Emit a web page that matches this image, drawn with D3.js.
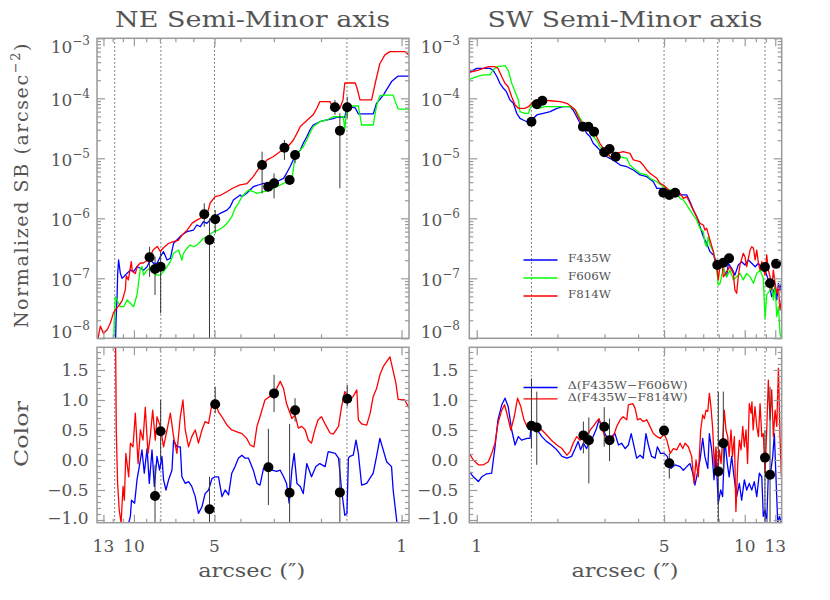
<!DOCTYPE html>
<html><head><meta charset="utf-8">
<script src="https://cdn.jsdelivr.net/npm/d3@7"></script>
<style>
body{margin:0;background:#fff}
text{font-family:"DejaVu Serif",serif;fill:#555}
</style>
</head><body>
<svg id="c" width="830" height="600"></svg>
<script>
// ---------------- DATA ----------------
const xTickVals = [1,2,3,4,5,6,7,8,9,10,11,12,13];
const xTickLabels = [1,5,10,13];
const sbTickExp = [-3,-4,-5,-6,-7,-8];
const colorTickLabels = [-1.0,-0.5,0.0,0.5,1.0,1.5];
const neDots = [11.8, 7.93, 5.0, 1.6];
const swDots = [1.6, 5.0, 7.93, 11.9];
const legendSB = ["F435W","F606W","F814W"];
const legendColor = ["\u0394(F435W\u2212F606W)","\u0394(F435W\u2212F814W)"];

// NE semi-minor axis: [arcsec, normalized SB]
const neBlueSB = [[0.937,2.35e-4],[1.03,2.35e-4],[1.09,1.9e-4],[1.17,1.13e-4],[1.24,8.25e-5],[1.276,5.5e-5],[1.45,5.5e-5],[1.49,6.9e-5],[1.56,7.2e-5],[1.60,7.2e-5],[1.63,4.8e-5],[1.75,4.8e-5],[1.80,4.6e-5],[1.90,4.35e-5],[2.02,4.07e-5],[2.14,3.59e-5],[2.20,2.96e-5],[2.26,2.29e-5],[2.33,1.78e-5],[2.39,1.37e-5],[2.46,1.21e-5],[2.54,9.4e-6],[2.61,7.24e-6],[2.69,5.62e-6],[2.76,4.64e-6],[2.93,4.07e-6],[3.10,3.83e-6],[3.28,3.83e-6],[3.43,3.59e-6],[3.58,3.36e-6],[3.79,2.61e-6],[3.95,2.29e-6],[4.01,2.45e-6],[4.25,2.02e-6],[4.37,1.56e-6],[4.49,1.37e-6],[4.76,1.21e-6],[4.97,1.06e-6],[5.19,9.4e-7],[5.34,8.25e-7],[5.50,8.78e-7],[5.65,7.24e-7],[5.82,7.73e-7],[5.99,6.38e-7],[6.34,5.98e-7],[6.62,5.27e-7],[6.91,4.35e-7],[7.11,3.83e-7],[7.31,2.15e-7],[7.52,2.02e-7],[7.75,2.78e-7],[7.97,2.29e-7],[8.20,1.78e-7],[8.44,1.78e-7],[8.69,2.02e-7],[8.93,1.56e-7],[9.20,1.37e-7],[9.46,1.47e-7],[9.74,1.56e-7],[10.03,1.29e-7],[10.31,1.37e-7],[10.61,1.21e-7],[10.92,1.06e-7],[11.08,1.0e-7],[11.24,1.21e-7],[11.41,2.02e-7],[11.50,1.21e-7],[11.56,4.93e-8],[11.66,2.02e-8],[11.75,5e-9]];
const neGreenSB = [[0.937,6.6e-5],[1.03,6.6e-5],[1.06,9.4e-5],[1.075,1.13e-4],[1.17,1.13e-4],[1.205,1.1e-4],[1.24,7.5e-5],[1.276,3.59e-5],[1.41,3.59e-5],[1.45,7.44e-5],[1.60,7.44e-5],[1.63,2.96e-5],[1.65,4.93e-5],[1.80,4.93e-5],[1.90,4.35e-5],[2.02,4.07e-5],[2.14,3.36e-5],[2.20,2.61e-5],[2.26,2.02e-5],[2.33,1.56e-5],[2.39,1.37e-5],[2.50,1.06e-5],[2.54,6.38e-6],[2.57,4.35e-6],[2.69,4.07e-6],[2.76,3.83e-6],[2.93,3.36e-6],[3.10,2.96e-6],[3.28,2.78e-6],[3.47,2.61e-6],[3.58,2.78e-6],[3.73,2.96e-6],[3.84,2.61e-6],[3.95,2.29e-6],[4.07,1.78e-6],[4.19,1.47e-6],[4.31,1.06e-6],[4.49,8.25e-7],[4.63,7.24e-7],[4.83,6.38e-7],[5.04,5.98e-7],[5.34,4.93e-7],[5.50,4.64e-7],[5.65,4.07e-7],[5.82,3.59e-7],[5.99,3.36e-7],[6.16,3.59e-7],[6.34,3.16e-7],[6.53,2.61e-7],[6.62,2.02e-7],[6.81,2.96e-7],[7.11,2.61e-7],[7.31,1.89e-7],[7.52,1.56e-7],[7.75,1.29e-7],[7.97,1.13e-7],[8.20,1.13e-7],[8.44,1.21e-7],[8.69,1.47e-7],[8.93,1.37e-7],[9.20,1.13e-7],[9.33,1.56e-7],[9.46,1.47e-7],[9.74,5.27e-8],[10.03,3.36e-8],[10.31,3.83e-8],[10.61,4.35e-8],[10.92,3.36e-8],[11.24,3.36e-8],[11.56,4.35e-8],[11.73,4.93e-8],[11.84,2.02e-8],[11.9,9e-9]];
const neRedSB = [[0.937,5.2e-4],[0.972,6.0e-4],[1.105,6.0e-4],[1.154,5.3e-4],[1.205,3.8e-4],[1.247,2.0e-4],[1.294,9.4e-5],[1.43,9.4e-5],[1.468,1.5e-4],[1.49,1.8e-4],[1.63,1.8e-4],[1.655,9.4e-5],[1.70,6.8e-5],[1.804,6.8e-5],[1.85,8.8e-5],[2.02,8.8e-5],[2.07,6.9e-5],[2.14,5.3e-5],[2.255,4.3e-5],[2.39,3.4e-5],[2.46,2.6e-5],[2.54,2.0e-5],[2.68,1.5e-5],[2.84,1.3e-5],[3.02,1.06e-5],[3.18,9.4e-6],[3.38,7.2e-6],[3.59,4.9e-6],[3.78,3.8e-6],[4.01,3.6e-6],[4.26,3.2e-6],[4.48,2.8e-6],[4.76,2.4e-6],[4.97,2.3e-6],[5.19,1.8e-6],[5.32,1.2e-6],[5.51,1.06e-6],[5.80,9.4e-7],[6.06,8.3e-7],[6.32,6.4e-7],[6.60,5.3e-7],[6.83,4.3e-7],[7.13,4.1e-7],[7.44,3.8e-7],[7.77,3.2e-7],[7.97,2.8e-7],[8.18,3.4e-7],[8.47,3.0e-7],[8.69,2.3e-7],[8.91,2.0e-7],[9.22,1.8e-7],[9.46,1.8e-7],[9.71,1.6e-7],[9.88,1.2e-7],[10.14,1.3e-7],[10.23,1.9e-7],[10.49,9.4e-8],[10.68,1.1e-7],[10.77,6.4e-8],[11.05,4.3e-8],[11.43,3.4e-8],[11.73,3.0e-8],[11.94,2.6e-8],[12.25,1.8e-8],[12.57,1.4e-8],[13.0,1.2e-8],[13.35,1.6e-8],[13.65,9.4e-9]];

const nePtsX  = [8.74,8.34,7.95,5.46,5.22,4.97,3.32,3.15,2.995,2.74,2.62,2.50,1.774,1.70,1.596];
const nePtsSB = [2.24e-7,1.43e-7,1.56e-7,1.17e-6,4.35e-7,9.62e-7,7.73e-6,3.36e-6,3.83e-6,1.50e-5,4.35e-6,1.135e-5,7.08e-5,2.88e-5,7.08e-5];
const nePtsLo = [1.06e-7,5.27e-8,2.61e-8,7.24e-7,1e-9,5.62e-7,2.61e-6,2.8e-6,2.15e-6,9.4e-6,3.7e-6,8.25e-6,5.3e-5,3.16e-6,4.64e-5];
const nePtsHi = [3.36e-7,2.29e-7,2.78e-7,1.78e-6,1.0e-6,1.37e-6,1.29e-5,3.9e-6,5.62e-6,2.02e-5,5.0e-6,1.37e-5,9.4e-5,5.62e-5,1.06e-4];

// NE colour profiles: [arcsec, colour]
const neBlueCol = [[0.94,-1.5],[1.0,-1.3],[1.04,-1.05],[1.075,-0.5],[1.09,-0.11],[1.137,-0.03],[1.205,0.36],[1.24,0.06],[1.276,-0.22],[1.35,-0.39],[1.41,-0.42],[1.45,0.11],[1.48,0.33],[1.515,0.08],[1.56,0.06],[1.58,0.03],[1.60,-0.89],[1.63,-0.92],[1.675,-0.5],[1.72,0.03],[1.77,0.11],[1.88,0.14],[1.93,-0.11],[2.02,-0.06],[2.09,-0.11],[2.17,-0.28],[2.26,-0.06],[2.33,-0.56],[2.39,-0.44],[2.46,-0.39],[2.52,0.11],[2.57,-0.17],[2.63,-0.72],[2.69,-0.39],[2.76,-0.28],[2.84,-0.17],[2.93,-0.19],[3.05,-0.17],[3.19,-0.17],[3.28,-0.14],[3.38,-0.42],[3.47,-0.39],[3.58,-0.17],[3.73,0.03],[3.84,0.03],[3.95,0.08],[4.07,0.03],[4.19,-0.11],[4.31,-0.22],[4.43,-0.58],[4.56,-0.5],[4.69,-0.61],[4.83,-0.28],[4.97,-0.28],[5.11,-0.31],[5.26,-0.5],[5.42,-0.56],[5.57,-0.78],[5.74,-0.89],[5.90,-0.61],[6.08,-0.44],[6.25,-0.36],[6.43,-0.39],[6.62,-0.28],[6.71,0.22],[6.91,0.22],[7.11,0.33],[7.21,-0.17],[7.42,-0.33],[7.59,-0.5],[7.75,-0.33],[7.86,0.06],[8.02,-0.17],[8.20,0.06],[8.39,-0.44],[8.56,0.17],[8.76,-0.39],[8.93,0.19],[9.15,-0.22],[9.33,0.17],[9.55,-0.11],[9.74,-0.33],[9.94,-0.72],[10.21,-0.67],[10.31,-0.94],[10.46,-1.05],[10.6,-1.3]];
const neRedCol = [[0.937,0.86],[0.972,1.0],[1.03,1.01],[1.05,1.28],[1.105,1.72],[1.137,1.64],[1.17,1.56],[1.205,1.42],[1.24,1.19],[1.276,1.06],[1.31,0.78],[1.35,0.58],[1.41,0.6],[1.45,0.67],[1.47,1.17],[1.515,1.06],[1.54,1.03],[1.58,1.06],[1.63,1.14],[1.675,0.89],[1.72,0.56],[1.80,0.43],[1.85,0.45],[1.92,0.58],[1.99,0.72],[2.05,0.67],[2.11,0.5],[2.17,0.28],[2.23,0.33],[2.29,0.5],[2.36,0.56],[2.43,0.53],[2.50,0.75],[2.57,0.69],[2.69,0.94],[2.76,1.19],[2.84,1.31],[2.93,1.19],[3.02,1.11],[3.10,1.06],[3.24,1.0],[3.38,0.72],[3.47,0.56],[3.56,0.22],[3.68,0.25],[3.79,0.36],[3.95,0.44],[4.12,0.47],[4.31,0.5],[4.49,0.58],[4.69,0.72],[4.83,0.8],[4.97,0.97],[5.11,0.94],[5.26,0.61],[5.42,0.64],[5.57,0.5],[5.74,0.28],[5.90,0.5],[6.08,0.39],[6.25,0.22],[6.43,0.5],[6.56,1.0],[6.71,0.72],[6.91,0.11],[7.11,0.39],[7.31,0.78],[7.52,0.5],[7.75,0.22],[7.97,0.56],[8.20,0.72],[8.32,0.33],[8.51,0.83],[8.69,0.39],[8.86,0.11],[9.07,0.88],[9.25,0.33],[9.46,0.5],[9.65,-0.06],[9.88,0.78],[10.08,0.22],[10.31,0.28],[10.46,-0.28],[10.72,0.11],[10.86,-0.67],[10.98,-0.44],[11.17,-1.05],[11.35,-0.83],[11.51,-0.39],[11.64,0.5],[11.7,1.83],[11.8,3.0]];

const neColX  = [8.34,7.95,5.22,4.97,3.145,2.995,2.62,2.50,1.70,1.596];
const neColV  = [-0.6,0.48,-0.82,0.93,-0.12,1.11,-0.545,0.83,-0.54,1.02];
const neColLo = [-1.2,0.0,-1.2,0.78,-0.75,0.8,-1.2,0.64,-1.2,0.89];
const neColHi = [-0.08,1.0,-0.28,1.22,0.52,1.42,0.6,1.03,0.03,1.25];

// SW semi-minor axis: [arcsec, normalized SB]
const swBlueSB = [[0.938,2.7e-4],[1.0,3.16e-4],[1.03,3.16e-4],[1.12,3.16e-4],[1.15,2.96e-4],[1.19,2.29e-4],[1.22,1.78e-4],[1.257,1.47e-4],[1.29,1.29e-4],[1.33,9.4e-5],[1.37,8.25e-5],[1.41,5.62e-5],[1.45,4.64e-5],[1.49,4.35e-5],[1.54,4.07e-5],[1.58,4.07e-5],[1.63,4.64e-5],[1.675,5.27e-5],[1.77,5.62e-5],[1.88,5.98e-5],[1.99,6.81e-5],[2.10,7.24e-5],[2.23,7.24e-5],[2.29,6.38e-5],[2.36,4.93e-5],[2.43,3.83e-5],[2.50,3.36e-5],[2.57,2.61e-5],[2.65,2.29e-5],[2.72,1.78e-5],[2.80,1.56e-5],[2.88,1.37e-5],[2.97,1.13e-5],[3.06,1.06e-5],[3.14,1.0e-5],[3.23,9.4e-6],[3.43,7.73e-6],[3.63,7.24e-6],[3.84,6.38e-6],[4.07,5.27e-6],[4.31,4.93e-6],[4.56,4.07e-6],[4.70,3.16e-6],[4.97,3.16e-6],[5.12,2.78e-6],[5.42,2.61e-6],[5.74,2.45e-6],[6.08,2.45e-6],[6.25,1.89e-6],[6.43,1.37e-6],[6.62,1.06e-6],[6.81,7.24e-7],[7.01,4.93e-7],[7.21,3.83e-7],[7.42,2.78e-7],[7.64,2.45e-7],[7.86,1.89e-7],[8.09,1.67e-7],[8.32,1.47e-7],[8.56,1.06e-7],[8.69,1.78e-7],[8.94,1.47e-7],[9.19,1.13e-7],[9.46,1.67e-7],[9.74,1.89e-7],[10.02,1.67e-7],[10.32,2.02e-7],[10.62,1.78e-7],[10.94,1.56e-7],[11.25,1.78e-7],[11.58,1.47e-7],[11.91,1.37e-7],[12.25,9.4e-8],[12.61,4.93e-8],[12.98,7.24e-8],[13.17,4.35e-8],[13.36,8.25e-8],[13.54,6.38e-8],[13.7,8.25e-8]];
const swGreenSB = [[0.938,2.07e-4],[1.0,2.29e-4],[1.06,2.45e-4],[1.12,2.45e-4],[1.15,2.96e-4],[1.19,3.36e-4],[1.275,3.5e-4],[1.31,2.96e-4],[1.35,1.78e-4],[1.39,1.29e-4],[1.43,9.4e-5],[1.45,5.98e-5],[1.51,5.62e-5],[1.56,5.62e-5],[1.60,7.73e-5],[1.70,6.81e-5],[1.80,7.24e-5],[1.93,7.24e-5],[2.10,7.24e-5],[2.23,7.24e-5],[2.29,6.81e-5],[2.36,5.98e-5],[2.43,4.64e-5],[2.50,3.83e-5],[2.57,3.36e-5],[2.65,2.96e-5],[2.72,2.29e-5],[2.80,2.02e-5],[2.88,1.56e-5],[2.97,1.37e-5],[3.06,1.21e-5],[3.14,1.06e-5],[3.33,1.0e-5],[3.43,1.06e-5],[3.63,1.0e-5],[3.73,7.73e-6],[3.84,6.81e-6],[4.07,5.62e-6],[4.31,5.27e-6],[4.43,4.64e-6],[4.70,4.07e-6],[4.97,3.36e-6],[5.27,2.96e-6],[5.58,2.61e-6],[5.74,2.15e-6],[5.90,2.02e-6],[6.08,1.66e-6],[6.25,1.37e-6],[6.43,1.13e-6],[6.62,9.4e-7],[6.81,6.81e-7],[7.01,5.98e-7],[7.10,3.83e-7],[7.21,3.36e-7],[7.31,4.93e-7],[7.42,3.59e-7],[7.64,2.78e-7],[7.86,1.37e-7],[7.97,7.73e-8],[8.09,8.25e-8],[8.32,1.47e-7],[8.56,1.06e-7],[8.81,1.37e-7],[9.07,9.4e-8],[9.33,1.06e-7],[9.60,1.21e-7],[9.88,9.4e-8],[10.17,1.21e-7],[10.47,1.06e-7],[10.78,8.25e-8],[11.09,1.21e-7],[11.41,1.37e-7],[11.73,1.0e-7],[11.91,2.15e-8],[12.08,5.27e-8],[12.43,6.38e-8],[12.61,8.25e-8],[12.79,4.35e-8],[12.98,7.24e-8],[13.17,2.29e-8],[13.36,3.36e-8],[13.54,1.21e-8],[13.7,1.0e-8]];
const swRedSB = [[0.938,2.7e-4],[1.014,2.96e-4],[1.105,3.36e-4],[1.17,3.36e-4],[1.20,3.16e-4],[1.24,2.29e-4],[1.275,1.78e-4],[1.31,1.56e-4],[1.35,1.06e-4],[1.39,7.73e-5],[1.43,6.81e-5],[1.51,6.8e-5],[1.56,7.24e-5],[1.60,8.25e-5],[1.675,9.4e-5],[1.75,9.4e-5],[1.88,9.1e-5],[2.05,8.78e-5],[2.17,8.25e-5],[2.26,7.24e-5],[2.33,6.38e-5],[2.39,4.93e-5],[2.47,3.83e-5],[2.54,3.36e-5],[2.65,2.96e-5],[2.76,2.61e-5],[2.88,1.78e-5],[2.97,1.47e-5],[3.06,1.37e-5],[3.14,1.06e-5],[3.23,1.0e-5],[3.33,1.21e-5],[3.52,1.29e-5],[3.73,1.21e-5],[3.84,9.4e-6],[4.07,8.78e-6],[4.18,7.73e-6],[4.31,6.38e-6],[4.43,5.62e-6],[4.70,4.64e-6],[4.83,3.83e-6],[4.97,3.59e-6],[5.12,3.16e-6],[5.27,2.78e-6],[5.42,2.61e-6],[5.74,2.61e-6],[5.90,2.15e-6],[6.08,2.29e-6],[6.25,1.78e-6],[6.43,1.37e-6],[6.62,1.06e-6],[6.81,8.25e-7],[7.01,7.73e-7],[7.10,6.38e-7],[7.21,6.81e-7],[7.42,4.35e-7],[7.64,2.78e-7],[7.75,1.89e-7],[7.86,1.67e-7],[7.97,9.4e-8],[8.09,1.67e-7],[8.20,2.02e-7],[8.32,1.06e-7],[8.56,1.29e-7],[8.81,1.56e-7],[9.07,1.21e-7],[9.19,6.38e-8],[9.33,5.62e-8],[9.46,1.06e-7],[9.60,1.67e-7],[9.88,2.61e-7],[10.02,2.29e-7],[10.17,1.56e-7],[10.32,2.15e-7],[10.47,2.96e-7],[10.62,3.36e-7],[10.78,3.16e-7],[10.94,2.02e-7],[11.09,2.96e-7],[11.25,1.78e-7],[11.41,1.37e-7],[11.58,1.89e-7],[11.73,1.47e-7],[11.91,1.13e-7],[12.08,2.45e-7],[12.25,1.37e-7],[12.43,1.06e-7],[12.61,6.38e-8],[12.79,1.37e-7],[12.98,8.25e-8],[13.17,5.62e-8],[13.36,7.24e-8],[13.54,2.96e-8],[13.7,4.35e-8]];

const swPtsX  = [1.60,1.675,1.757,2.49,2.61,2.74,2.99,3.13,3.30,4.97,5.23,5.50,7.90,8.32,8.74,11.9,12.43,13.09];
const swPtsSB = [4.07e-5,7.94e-5,9.12e-5,3.36e-5,3.36e-5,2.78e-5,1.26e-5,1.43e-5,1.06e-5,2.67e-6,2.45e-6,2.67e-6,1.67e-7,1.82e-7,2.15e-7,1.54e-7,8.25e-8,1.74e-7];

// SW colour profiles: [arcsec, colour]
const swBlueCol = [[0.938,-0.19],[0.971,-0.28],[1.014,-0.36],[1.044,-0.28],[1.09,-0.23],[1.137,-0.22],[1.17,0.22],[1.20,0.67],[1.24,0.92],[1.275,1.03],[1.31,0.89],[1.35,0.5],[1.39,0.25],[1.43,0.39],[1.47,0.33],[1.54,0.36],[1.58,0.36],[1.60,0.64],[1.64,0.58],[1.70,0.47],[1.75,0.39],[1.82,0.31],[1.90,0.25],[1.99,0.17],[2.08,0.06],[2.17,0.03],[2.26,0.06],[2.33,0.19],[2.39,0.31],[2.44,0.17],[2.50,0.28],[2.57,0.19],[2.65,0.33],[2.72,0.39],[2.80,0.53],[2.86,0.67],[2.93,0.56],[3.01,0.44],[3.10,0.33],[3.19,0.39],[3.28,0.44],[3.38,0.25],[3.47,0.28],[3.58,0.19],[3.68,0.25],[3.77,0.44],[3.84,0.28],[3.95,0.03],[4.07,0.08],[4.18,0.03],[4.28,0.44],[4.37,0.25],[4.49,0.06],[4.63,0.03],[4.72,0.22],[4.85,0.11],[5.0,0.11],[5.14,0.06],[5.30,-0.14],[5.50,-0.08],[5.74,-0.11],[5.90,-0.17],[6.08,-0.11],[6.25,-0.06],[6.40,-0.22],[6.52,-0.42],[6.66,-0.22],[6.81,0.0],[6.97,0.36],[7.10,0.06],[7.28,-0.14],[7.38,0.44],[7.53,0.17],[7.68,-0.33],[7.81,0.06],[7.97,-0.72],[8.13,-0.5],[8.27,-0.61],[8.43,0.33],[8.61,-0.06],[8.75,-0.28],[8.94,0.06],[9.12,-0.28],[9.33,-0.61],[9.55,-0.39],[9.74,-0.67],[9.97,-0.33],[10.17,-0.5],[10.40,-0.39],[10.62,-0.5],[10.86,-0.36],[11.09,-0.61],[11.34,-0.22],[11.58,-0.28],[11.73,-0.94],[11.91,-0.83],[12.08,-1.05],[12.25,-0.22],[12.43,-0.28],[12.72,0.06],[12.90,0.44],[13.09,-0.33],[13.28,-1.05],[13.48,-0.94],[13.7,-1.05]];
const swRedCol = [[0.938,0.11],[0.971,0.0],[1.014,-0.08],[1.06,-0.08],[1.105,-0.03],[1.137,0.11],[1.17,0.28],[1.20,0.61],[1.24,0.83],[1.27,0.92],[1.30,0.75],[1.34,0.5],[1.38,0.72],[1.42,1.03],[1.46,0.89],[1.50,0.67],[1.54,0.56],[1.60,0.56],[1.675,0.56],[1.75,0.5],[1.82,0.42],[1.90,0.33],[1.99,0.25],[2.08,0.19],[2.17,0.08],[2.23,0.14],[2.29,0.28],[2.36,0.39],[2.43,0.33],[2.50,0.47],[2.57,0.39],[2.65,0.5],[2.72,0.56],[2.80,0.64],[2.86,0.69],[2.93,0.53],[3.01,0.39],[3.10,0.33],[3.19,0.31],[3.25,0.42],[3.33,0.56],[3.43,0.67],[3.52,0.72],[3.63,0.67],[3.68,0.92],[3.82,0.94],[3.90,0.86],[3.98,0.67],[4.07,0.69],[4.18,0.64],[4.31,0.67],[4.43,0.56],[4.56,0.44],[4.70,0.39],[4.85,0.36],[5.0,0.44],[5.12,0.33],[5.27,0.11],[5.42,0.19],[5.58,0.17],[5.74,0.28],[5.87,0.19],[5.99,0.28],[6.16,0.22],[6.34,0.06],[6.47,-0.39],[6.58,0.0],[6.71,-0.28],[6.85,0.5],[6.97,0.75],[7.07,0.69],[7.17,0.83],[7.28,0.81],[7.38,1.11],[7.48,0.89],[7.60,0.5],[7.70,-0.11],[7.81,0.22],[7.93,-0.28],[8.04,0.17],[8.16,-0.06],[8.27,0.33],[8.39,0.83],[8.51,0.5],[8.64,0.39],[8.75,0.06],[8.89,0.5],[9.0,0.06],[9.15,0.39],[9.27,-0.86],[9.42,-0.06],[9.55,0.33],[9.69,0.17],[9.83,0.56],[9.97,0.22],[10.11,0.5],[10.25,-0.06],[10.40,0.94],[10.56,0.78],[10.64,0.97],[10.75,0.5],[10.92,0.89],[11.09,0.56],[11.25,0.39],[11.41,0.94],[11.58,0.39],[11.73,0.44],[11.91,-0.22],[12.08,0.5],[12.25,1.33],[12.43,0.67],[12.61,1.17],[12.79,0.39],[12.98,0.83],[13.17,0.56],[13.36,1.53],[13.54,0.39],[13.7,-0.28]];

const swColX  = [1.60,1.675,2.50,2.62,2.99,3.13,5.0,5.23,7.97,8.32,11.9,12.43];
const swColV  = [0.57,0.54,0.41,0.33,0.555,0.33,0.49,-0.055,-0.19,0.28,0.04,-0.245];
const swColLo = [0.2,-0.08,0.11,-0.39,0.22,-0.02,0.40,-0.31,-1.2,-0.22,-1.2,-1.2];
const swColHi = [1.36,1.14,0.64,0.71,0.88,0.69,0.55,0.11,1.14,1.14,0.5,1.22];

// ---------------- LAYOUT / SCALES ----------------
const BLUE="#0000ff", GREEN="#00ff00", RED="#ff0000";
const FRAME="#9a9a9a";
const svg = d3.select("#c");
const topP = {y0:38.3, y1:338.3}, botP = {y0:347.3, y1:522.7};
const xNE = d3.scaleLog().domain([13.74,0.938]).range([97,409]);
const xSW = d3.scaleLog().domain([0.938,13.74]).range([469.3,781.7]);
const ySB = d3.scaleLog().domain([1e-8,1e-3]).range([topP.y1, topP.y0]);
const yC  = d3.scaleLinear().domain([-1.045,1.878]).range([botP.y1, botP.y0]);

const sbMinor = [];
sbTickExp.forEach(e => { for (let m=2;m<=9;m++){ const v=m*Math.pow(10,e); if (v<1e-3) sbMinor.push(v);} });
const cMinor = d3.range(-10,19).map(i=>i/10).filter(v=>colorTickLabels.indexOf(v)<0);

let clipId = 0;
function panel(x, y, yKind, opts){
  const [x0,x1] = x.range(); const [y1,y0] = y.range();
  const id = "clip"+(clipId++);
  svg.append("clipPath").attr("id",id).append("rect")
     .attr("x",x0).attr("y",y0).attr("width",x1-x0).attr("height",y1-y0);
  const g = svg.append("g");
  const gc = g.append("g").attr("clip-path","url(#"+id+")");
  gc.selectAll("line.dot").data(opts.dots).enter().append("line")
    .attr("x1",d=>x(d)).attr("x2",d=>x(d)).attr("y1",y0).attr("y2",y1)
    .attr("stroke","#333").attr("stroke-width",1).attr("stroke-dasharray","1.2,2.8");
  const line = d3.line().x(d=>x(d[0])).y(d=>y(d[1]));
  opts.curves.forEach(c=>{
    gc.append("path").datum(c.data).attr("d",line).attr("fill","none")
      .attr("stroke",c.color).attr("stroke-width",1.3).attr("stroke-linejoin","round");
  });
  if (opts.legend) opts.legend(gc);
  if (opts.err){
    gc.selectAll("line.err").data(opts.err.x).enter().append("line")
      .attr("x1",d=>x(d)).attr("x2",d=>x(d))
      .attr("y1",(d,i)=>y(opts.err.lo[i])).attr("y2",(d,i)=>y(opts.err.hi[i]))
      .attr("stroke","#3a3a3a").attr("stroke-width",1);
  }
  if (opts.pts){
    gc.selectAll("circle").data(opts.pts.x).enter().append("circle")
      .attr("cx",d=>x(d)).attr("cy",(d,i)=>y(opts.pts.y[i])).attr("r",5).attr("fill","#000");
  }
  g.append("rect").attr("x",x0).attr("y",y0).attr("width",x1-x0).attr("height",y1-y0)
    .attr("fill","none").attr("stroke",FRAME).attr("stroke-width",1.5);
  const styleAxis = sel => { sel.select(".domain").remove(); sel.selectAll("line").attr("stroke",FRAME).attr("stroke-width",1.2); sel.selectAll("text").remove(); };
  const majX = xTickLabels, minX = xTickVals.filter(v=>majX.indexOf(v)<0);
  [[minX,4],[majX,8]].forEach(([vals,len])=>{
    g.append("g").attr("transform",`translate(0,${y1})`).call(d3.axisBottom(x).tickValues(vals).tickSize(-len).tickSizeOuter(0).tickFormat("")).call(styleAxis);
    g.append("g").attr("transform",`translate(0,${y0})`).call(d3.axisTop(x).tickValues(vals).tickSize(-len).tickSizeOuter(0).tickFormat("")).call(styleAxis);
  });
  let majY, minY;
  if (yKind==="sb"){ majY = sbTickExp.map(e=>Math.pow(10,e)); minY = sbMinor; }
  else { majY = colorTickLabels; minY = cMinor; }
  [[minY,4],[majY,8]].forEach(([vals,len])=>{
    g.append("g").attr("transform",`translate(${x0},0)`).call(d3.axisLeft(y).tickValues(vals).tickSize(-len).tickSizeOuter(0).tickFormat("")).call(styleAxis);
    g.append("g").attr("transform",`translate(${x1},0)`).call(d3.axisRight(y).tickValues(vals).tickSize(-len).tickSizeOuter(0).tickFormat("")).call(styleAxis);
  });
  const lx = x0 - opts.labGap;
  if (yKind==="sb"){
    sbTickExp.forEach(e=>{
      const yy = Math.min(Math.max(y(Math.pow(10,e))+8, y0+15), y1);
      const t = g.append("text").attr("x",lx).attr("y",yy).attr("text-anchor","end").attr("font-size",17);
      t.append("tspan").text("10");
      t.append("tspan").attr("dy",-8).attr("font-size",12).text("\u2212"+Math.abs(e));
    });
  } else {
    colorTickLabels.forEach(v=>{
      const yy = Math.min(y(v)+6, y1+1);
      g.append("text").attr("x",lx).attr("y",yy).attr("text-anchor","end").attr("font-size",17)
        .text((v<0?"\u2212":"")+Math.abs(v).toFixed(1));
    });
  }
  if (opts.xLabels){
    xTickLabels.forEach(v=>{
      g.append("text").attr("x",x(v)).attr("y",551.7).attr("text-anchor","middle").attr("font-size",17).text(v);
    });
  }
  return g;
}

const legSBColors=[BLUE,GREEN,RED], legSBy=[260,278,296];
const legCColors=[BLUE,RED], legCy=[387.5,398.8], legCty=[389.2,400.6];

panel(xNE, ySB, "sb", {labGap:7, dots:neDots,
  curves:[{data:neBlueSB,color:BLUE},{data:neGreenSB,color:GREEN},{data:neRedSB,color:RED}],
  err:{x:nePtsX, lo:nePtsLo, hi:nePtsHi}, pts:{x:nePtsX, y:nePtsSB}});
panel(xNE, yC, "col", {labGap:8.5, dots:neDots, xLabels:true,
  curves:[{data:neBlueCol,color:BLUE},{data:neRedCol,color:RED}],
  err:{x:neColX, lo:neColLo, hi:neColHi}, pts:{x:neColX, y:neColV}});
panel(xSW, ySB, "sb", {labGap:9.3, dots:swDots,
  curves:[{data:swBlueSB,color:BLUE},{data:swGreenSB,color:GREEN},{data:swRedSB,color:RED}],
  pts:{x:swPtsX, y:swPtsSB},
  legend: gl => legendSB.forEach((t,i)=>{
    gl.append("line").attr("x1",523.5).attr("x2",557.5).attr("y1",legSBy[i]).attr("y2",legSBy[i]).attr("stroke",legSBColors[i]).attr("stroke-width",1.3);
    gl.append("text").attr("x",568).attr("y",legSBy[i]+2).attr("font-size",11).attr("textLength",43).attr("lengthAdjust","spacingAndGlyphs").text(t);
  })});
panel(xSW, yC, "col", {labGap:11, dots:swDots, xLabels:true,
  curves:[{data:swBlueCol,color:BLUE},{data:swRedCol,color:RED}],
  err:{x:swColX, lo:swColLo, hi:swColHi}, pts:{x:swColX, y:swColV},
  legend: gl => legendColor.forEach((t,i)=>{
    gl.append("line").attr("x1",523.5).attr("x2",557.5).attr("y1",legCy[i]).attr("y2",legCy[i]).attr("stroke",legCColors[i]).attr("stroke-width",1.3);
    gl.append("text").attr("x",567.7).attr("y",legCty[i]).attr("font-size",10.5).attr("textLength",120).attr("lengthAdjust","spacingAndGlyphs").text(t);
  })});

svg.append("text").attr("x",252.5).attr("y",26.7).attr("text-anchor","middle").attr("font-size",22)
  .attr("textLength",275).attr("lengthAdjust","spacingAndGlyphs").text("NE Semi-Minor axis");
svg.append("text").attr("x",625).attr("y",26.7).attr("text-anchor","middle").attr("font-size",22)
  .attr("textLength",275).attr("lengthAdjust","spacingAndGlyphs").text("SW Semi-Minor axis");
[251.7, 625].forEach(cx=>{
  svg.append("text").attr("x",cx).attr("y",577).attr("text-anchor","middle").attr("font-size",19)
    .attr("textLength",107).attr("lengthAdjust","spacingAndGlyphs").text("arcsec (\u2033)");
});
const yt = svg.append("text").attr("transform","translate(28,185) rotate(-90)").attr("text-anchor","middle")
  .attr("font-size",19).attr("letter-spacing",1.6);
yt.append("tspan").text("Normalized SB (arcsec");
yt.append("tspan").attr("dy",-8).attr("font-size",13).text("\u22122");
yt.append("tspan").attr("dy",8).text(")");
svg.append("text").attr("transform","translate(28,434) rotate(-90)").attr("text-anchor","middle").attr("font-size",19)
  .attr("textLength",66).attr("lengthAdjust","spacingAndGlyphs").text("Color");
</script>
</body></html>
